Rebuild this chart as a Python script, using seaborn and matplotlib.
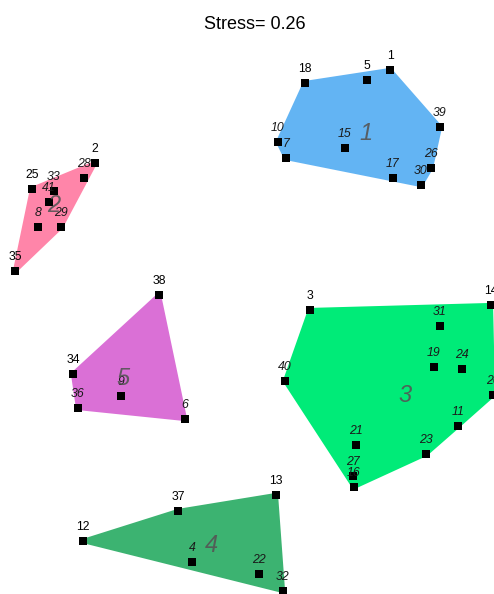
import numpy as np
import pandas as pd
import matplotlib
matplotlib.use("Agg")
import matplotlib.pyplot as plt
import seaborn as sns

# ---- data (NMDS site scores) ----
site_ids = [1, 5, 7, 10, 15, 17, 18, 26, 30, 39,
            2, 8, 25, 28, 29, 33, 35, 41,
            6, 9, 34, 36, 38,
            3, 11, 14, 16, 19, 20, 21, 23, 24, 27, 31, 40,
            4, 12, 13, 22, 32, 37]
mds1 = [0.700, 0.585, 0.180, 0.140, 0.475, 0.715, 0.275, 0.905, 0.855, 0.950,
        -0.775, -1.060, -1.090, -0.830, -0.945, -0.980, -1.175, -1.005,
        -0.325, -0.645, -0.885, -0.860, -0.455,
        0.300, 1.040, 1.205, 0.520, 0.920, 1.215, 0.530, 0.880, 1.060, 0.515, 0.950, 0.175,
        -0.290, -0.835, 0.130, 0.045, 0.165, -0.360]
mds2 = [1.150, 1.100, 0.710, 0.790, 0.760, 0.610, 1.085, 0.660, 0.575, 0.865,
        0.685, 0.365, 0.555, 0.610, 0.365, 0.545, 0.145, 0.490,
        -0.595, -0.480, -0.370, -0.540, 0.025,
        -0.050, -0.630, -0.025, -0.935, -0.335, -0.475, -0.725, -0.770, -0.345, -0.880, -0.130, -0.405,
        -1.310, -1.205, -0.975, -1.370, -1.455, -1.055]
cluster = [1] * 10 + [2] * 8 + [5] * 5 + [3] * 12 + [4] * 6
stress_value = 0.26

# ---- styles ----
cluster_colors = {1: "#63B4F3", 2: "#FF85A9", 3: "#00EB78", 4: "#3CB371", 5: "#DA70D6"}
upright_labels = {1, 5, 18, 2, 25, 35, 38, 34, 3, 14, 13, 37, 12}

df = pd.DataFrame({"id": site_ids, "MDS1": mds1, "MDS2": mds2, "cluster": cluster})


def convex_hull(pts):
    pts = sorted(map(tuple, pts))
    if len(pts) <= 2:
        return pts

    def cross(o, a, b):
        return (a[0] - o[0]) * (b[1] - o[1]) - (a[1] - o[1]) * (b[0] - o[0])

    lower = []
    for p in pts:
        while len(lower) >= 2 and cross(lower[-2], lower[-1], p) <= 0:
            lower.pop()
        lower.append(p)
    upper = []
    for p in reversed(pts):
        while len(upper) >= 2 and cross(upper[-2], upper[-1], p) <= 0:
            upper.pop()
        upper.append(p)
    return lower[:-1] + upper[:-1]


plt.rcParams["font.family"] = ["Liberation Sans", "DejaVu Sans"]
fig = plt.figure(figsize=(4.94, 5.94), dpi=100)
ax = fig.add_axes([0, 0, 1, 1])

for k, g in df.groupby("cluster"):
    hull = np.array(convex_hull(g[["MDS1", "MDS2"]].values))
    ax.fill(hull[:, 0], hull[:, 1], facecolor=cluster_colors[k], edgecolor=cluster_colors[k],
            linewidth=3, joinstyle="round", zorder=1)

sns.scatterplot(data=df, x="MDS1", y="MDS2", marker="s", s=28, color="black",
                edgecolor="none", ax=ax, zorder=3, legend=False)

for _, r in df.iterrows():
    up = int(r["id"]) in upright_labels
    ax.annotate(str(int(r["id"])), (r["MDS1"], r["MDS2"]), xytext=(0, 10),
                textcoords="offset points", ha="center", va="center", fontsize=8.8,
                style="normal" if up else "italic",
                color="black" if up else "#1a1a1a", zorder=4)

for k, g in df.groupby("cluster"):
    ax.text(g["MDS1"].mean(), g["MDS2"].mean(), str(k), ha="center", va="center",
            fontsize=17, style="italic", color="#555555", alpha=0.9, zorder=5)

ax.set_xlim(-1.25, 1.22)
ax.set_ylim(-1.47, 1.5)
ax.axis("off")

fig.text(0.516, 0.958, f"Stress= {stress_value:.2f}", ha="center", va="center", fontsize=13)

fig.savefig("out.png", dpi=100)
